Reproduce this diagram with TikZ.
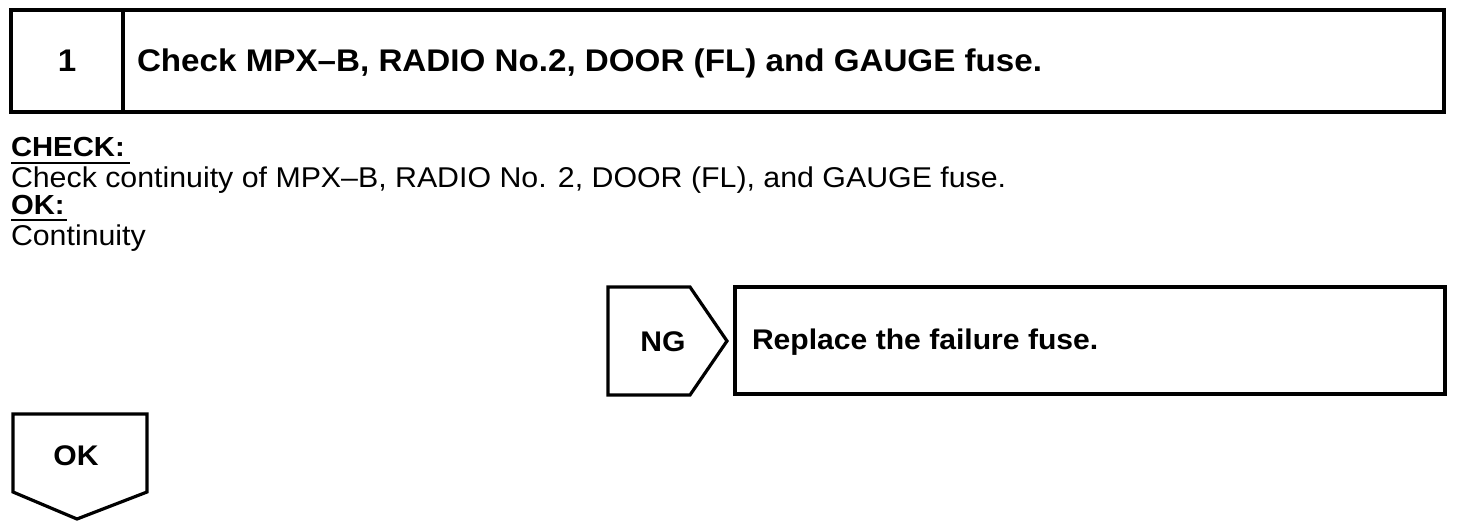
\documentclass[tikz,border=0pt]{standalone}
\usepackage{fontspec}
\newfontfamily\hv[FakeStretch=1.06]{Liberation Sans}
\begin{document}
\begin{tikzpicture}[x=1pt,y=-1pt,
  frame/.style={draw=black,line width=3.2pt,line join=miter},
  txt/.style={anchor=base west,inner sep=0pt,outer sep=0pt,font=\hv\fontsize{28.6}{30}\selectfont},
  btxt/.style={anchor=base west,inner sep=0pt,outer sep=0pt,font=\hv\bfseries\fontsize{27.6}{30}\selectfont},
  htxt/.style={anchor=base west,inner sep=0pt,outer sep=0pt,font=\hv\bfseries\fontsize{31.3}{33}\selectfont},
  ctxt/.style={anchor=base,inner sep=0pt,outer sep=0pt,font=\hv\bfseries\fontsize{28.4}{30}\selectfont},
  uline/.style={draw=black,line width=2pt}]
\useasboundingbox[fill=white] (0,0) rectangle (1472,528);
% header box
\coordinate (hTL) at (11,10);
\coordinate (hBR) at (1444,112);
\draw[frame] (hTL) rectangle (hBR);
\coordinate (dT) at (123,10);
\coordinate (dB) at (123,112);
\draw[frame] (dT) -- (dB);
\node[ctxt,font=\hv\bfseries\fontsize{31.3}{33}\selectfont] (num) at (67,71) {1};
\node[htxt] (head) at (137,71) {Check MPX–B, RADIO No.2, DOOR (FL) and GAUGE fuse.};
% check text
\node[btxt] (chk) at (11,156) {CHECK:};
\coordinate (u1a) at (11,163);
\coordinate (u1b) at (130,163);
\draw[uline] (u1a) -- (u1b);
\node[txt] (body) at (11,187) {Check continuity of MPX–B, RADIO No. 2, DOOR (FL), and GAUGE fuse.};
\node[btxt] (ok) at (11,214) {OK:};
\coordinate (u2a) at (11,220);
\coordinate (u2b) at (67,220);
\draw[uline] (u2a) -- (u2b);
\node[txt] (cont) at (11,245) {Continuity};
% NG pentagon
\coordinate (n1) at (608,287);
\coordinate (n2) at (690,287);
\coordinate (n3) at (727,341);
\coordinate (n4) at (690,395);
\coordinate (n5) at (608,395);
\draw[frame] (n1) -- (n2) -- (n3) -- (n4) -- (n5) -- cycle;
\node[ctxt] (ng) at (663,351) {NG};
% replace box
\coordinate (rTL) at (735,287);
\coordinate (rBR) at (1445,394);
\draw[frame] (rTL) rectangle (rBR);
\node[htxt,font=\hv\bfseries\fontsize{28.4}{30}\selectfont] (rep) at (752,349) {Replace the failure fuse.};
% OK pentagon
\coordinate (o1) at (13,414);
\coordinate (o2) at (147,414);
\coordinate (o3) at (147,492);
\coordinate (o4) at (77,519);
\coordinate (o5) at (13,492);
\draw[frame] (o1) -- (o2) -- (o3) -- (o4) -- (o5) -- cycle;
\node[ctxt] (okb) at (76,465) {OK};
\end{tikzpicture}
\end{document}
